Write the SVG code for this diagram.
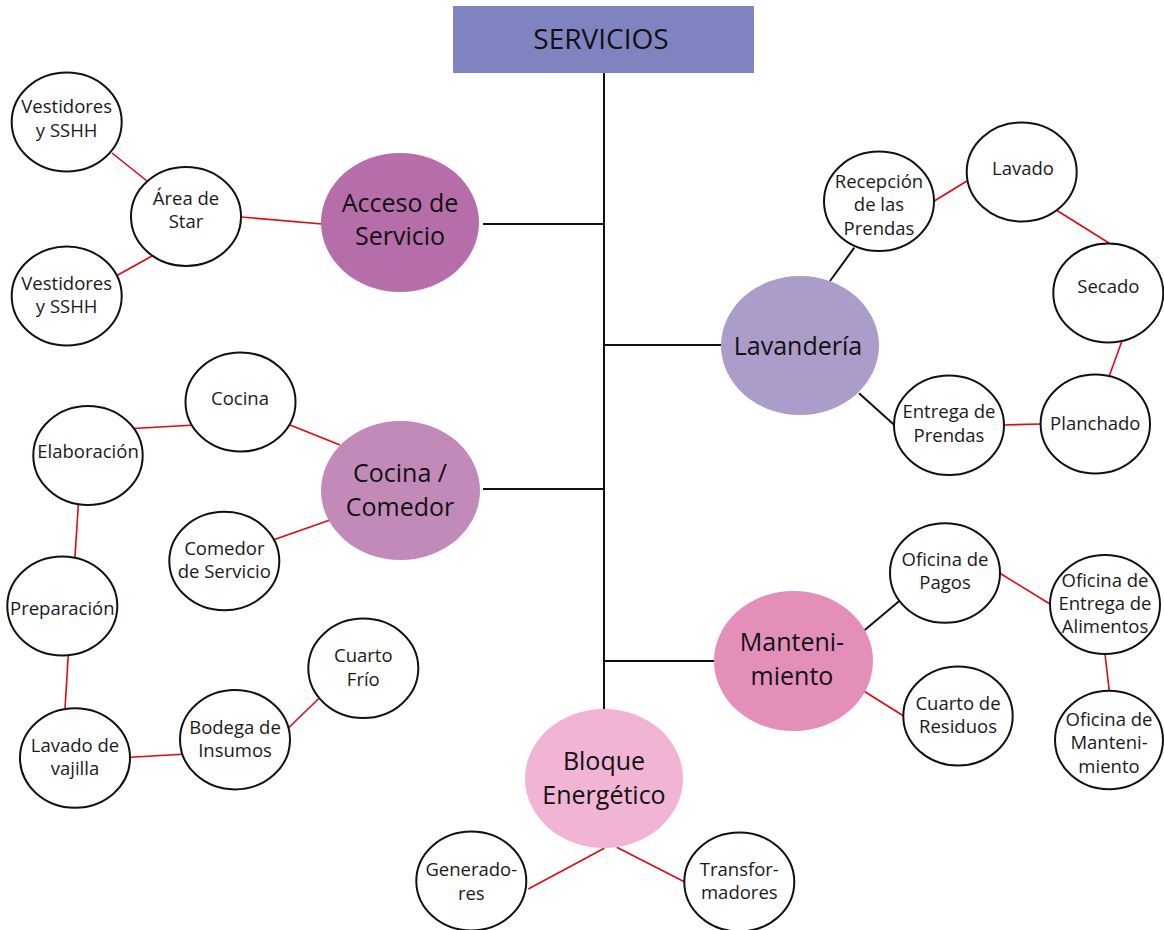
<svg xmlns="http://www.w3.org/2000/svg" width="1164" height="930" viewBox="0 0 1164 930">
<style>
  .bg{fill:#ffffff}
  .n{fill:#ffffff;stroke:#111;stroke-width:2}
  .t{font-family:"Open Sans","Liberation Sans",sans-serif;font-size:18.5px;fill:#1a1a1a;text-anchor:middle}
  .T{font-family:"Open Sans","Liberation Sans",sans-serif;font-size:25px;fill:#111;text-anchor:middle}
  .blk{stroke:#111;stroke-width:2;fill:none}
  .red{stroke:#e30613;stroke-width:1.6;fill:none}
</style>
<rect class="bg" x="0" y="0" width="1164" height="930"/>
<g id="connectors">
  <line class="blk" x1="604" y1="73" x2="604" y2="710"/>
  <line class="blk" x1="483" y1="224" x2="604" y2="224"/>
  <line class="blk" x1="483" y1="489" x2="604" y2="489"/>
  <line class="blk" x1="604" y1="345" x2="721" y2="345"/>
  <line class="blk" x1="604" y1="661" x2="714" y2="661"/>
  <line class="red" x1="112" y1="153" x2="147" y2="181"/>
  <line class="red" x1="241" y1="217" x2="322" y2="224"/>
  <line class="red" x1="152" y1="256" x2="116" y2="276"/>
  <line class="red" x1="133" y1="428.5" x2="195" y2="425"/>
  <line class="red" x1="290" y1="425" x2="340" y2="445"/>
  <line class="red" x1="273" y1="540" x2="330" y2="520"/>
  <line class="red" x1="78.3" y1="505" x2="75" y2="557"/>
  <line class="red" x1="68.3" y1="654" x2="65" y2="709"/>
  <line class="red" x1="130" y1="757.3" x2="182.7" y2="754.3"/>
  <line class="red" x1="287.3" y1="729" x2="321.7" y2="695.7"/>
  <line class="blk" x1="830" y1="281" x2="854.3" y2="247.7"/>
  <line class="blk" x1="859" y1="393.3" x2="894.3" y2="425"/>
  <line class="red" x1="934.3" y1="201" x2="967.3" y2="180.7"/>
  <line class="red" x1="1055" y1="209.3" x2="1109.3" y2="243.3"/>
  <line class="red" x1="1121.7" y1="341.7" x2="1109.3" y2="375.7"/>
  <line class="red" x1="1004" y1="425" x2="1040.7" y2="424"/>
  <line class="blk" x1="862.7" y1="631.7" x2="899.3" y2="601"/>
  <line class="red" x1="863.3" y1="690.7" x2="903.3" y2="715.7"/>
  <line class="red" x1="1000" y1="573.3" x2="1050" y2="604"/>
  <line class="red" x1="1105" y1="654" x2="1109.3" y2="691"/>
  <line class="red" x1="604.3" y1="848.3" x2="528.3" y2="889"/>
  <line class="red" x1="616.7" y1="847.3" x2="684.3" y2="881.7"/>
</g>
<g id="servicios">
  <rect x="453" y="6" width="301" height="67" fill="#7f84c1"/>
  <text x="601" y="48.5" font-family="Open Sans, Liberation Sans, sans-serif" font-size="28" fill="#111" text-anchor="middle">SERVICIOS</text>
</g>
<g id="acceso">
  <ellipse cx="400" cy="222.5" rx="79" ry="69.5" fill="#b56ea9"/>
  <text class="T" x="400" y="211.5">Acceso de</text>
  <text class="T" x="400" y="245">Servicio</text>
</g>
<g id="cocina-comedor">
  <ellipse cx="400.5" cy="490.5" rx="79.5" ry="69.5" fill="#c28ab9"/>
  <text class="T" x="400" y="482">Cocina /</text>
  <text class="T" x="400" y="516">Comedor</text>
</g>
<g id="lavanderia">
  <ellipse cx="800" cy="345.5" rx="79" ry="69.5" fill="#ac9cc9"/>
  <text class="T" x="798" y="355">Lavandería</text>
</g>
<g id="mantenimiento">
  <ellipse cx="793.5" cy="661" rx="79.5" ry="70" fill="#e38fba"/>
  <text class="T" x="792" y="651">Manteni-</text>
  <text class="T" x="792" y="685">miento</text>
</g>
<g id="bloque">
  <ellipse cx="604" cy="778.5" rx="79" ry="69.5" fill="#f2b4d4"/>
  <text class="T" x="604" y="770">Bloque</text>
  <text class="T" x="604" y="803.5">Energético</text>
</g>
<g id="vestidores1">
  <ellipse class="n" cx="66.7" cy="122" rx="55" ry="49.5"/>
  <text class="t" x="66.7" y="113">Vestidores</text>
  <text class="t" x="66.7" y="137">y SSHH</text>
</g>
<g id="area-star">
  <ellipse class="n" cx="186" cy="216.5" rx="55" ry="49.5"/>
  <text class="t" x="186" y="205">Área de</text>
  <text class="t" x="186" y="228">Star</text>
</g>
<g id="vestidores2">
  <ellipse class="n" cx="66.7" cy="296" rx="55" ry="49.5"/>
  <text class="t" x="66.7" y="290">Vestidores</text>
  <text class="t" x="66.7" y="313">y SSHH</text>
</g>
<g id="cocina">
  <ellipse class="n" cx="240.5" cy="402" rx="55" ry="49.5"/>
  <text class="t" x="240" y="405">Cocina</text>
</g>
<g id="elaboracion">
  <ellipse class="n" cx="88" cy="455.5" rx="54.7" ry="49.5"/>
  <text class="t" x="88" y="458">Elaboración</text>
</g>
<g id="comedor-servicio">
  <ellipse class="n" cx="224.3" cy="561" rx="55" ry="49.3"/>
  <text class="t" x="224.3" y="555">Comedor</text>
  <text class="t" x="224.3" y="578">de Servicio</text>
</g>
<g id="preparacion">
  <ellipse class="n" cx="62.3" cy="606" rx="55" ry="49.5"/>
  <text class="t" x="62.3" y="615">Preparación</text>
</g>
<g id="cuarto-frio">
  <ellipse class="n" cx="363.3" cy="668.3" rx="55" ry="49.7"/>
  <text class="t" x="363.3" y="662">Cuarto</text>
  <text class="t" x="363.3" y="685.5">Frío</text>
</g>
<g id="bodega">
  <ellipse class="n" cx="235" cy="739.7" rx="55" ry="49.7"/>
  <text class="t" x="235" y="733.8">Bodega de</text>
  <text class="t" x="235" y="757.2">Insumos</text>
</g>
<g id="lavado-vajilla">
  <ellipse class="n" cx="75" cy="758" rx="55" ry="49.7"/>
  <text class="t" x="75" y="751.5">Lavado de</text>
  <text class="t" x="75" y="774.7">vajilla</text>
</g>
<g id="recepcion">
  <ellipse class="n" cx="879" cy="201.3" rx="55" ry="49.7"/>
  <text class="t" x="879" y="188">Recepción</text>
  <text class="t" x="879" y="211.2">de las</text>
  <text class="t" x="879" y="234.5">Prendas</text>
</g>
<g id="lavado">
  <ellipse class="n" cx="1021.7" cy="172" rx="55" ry="49.5"/>
  <text class="t" x="1023" y="175">Lavado</text>
</g>
<g id="secado">
  <ellipse class="n" cx="1108.3" cy="293" rx="55" ry="49.5"/>
  <text class="t" x="1108.3" y="293.3">Secado</text>
</g>
<g id="planchado">
  <ellipse class="n" cx="1095.3" cy="424" rx="54.7" ry="49.5"/>
  <text class="t" x="1095.3" y="430">Planchado</text>
</g>
<g id="entrega-prendas">
  <ellipse class="n" cx="949" cy="425.3" rx="55" ry="49.7"/>
  <text class="t" x="949" y="418">Entrega de</text>
  <text class="t" x="949" y="441.8">Prendas</text>
</g>
<g id="oficina-pagos">
  <ellipse class="n" cx="945" cy="573" rx="55" ry="49.7"/>
  <text class="t" x="945" y="565.5">Oficina de</text>
  <text class="t" x="945" y="589.3">Pagos</text>
</g>
<g id="oficina-alimentos">
  <ellipse class="n" cx="1105" cy="604.5" rx="55" ry="49.5"/>
  <text class="t" x="1105" y="586.5">Oficina de</text>
  <text class="t" x="1105" y="610">Entrega de</text>
  <text class="t" x="1105" y="633">Alimentos</text>
</g>
<g id="cuarto-residuos">
  <ellipse class="n" cx="958" cy="716" rx="54.7" ry="49.5"/>
  <text class="t" x="958" y="709.5">Cuarto de</text>
  <text class="t" x="958" y="733">Residuos</text>
</g>
<g id="oficina-mantenimiento">
  <ellipse class="n" cx="1109" cy="740" rx="54" ry="49.3"/>
  <text class="t" x="1109" y="726">Oficina de</text>
  <text class="t" x="1109" y="749.3">Manteni-</text>
  <text class="t" x="1109" y="772.7">miento</text>
</g>
<g id="generadores">
  <ellipse class="n" cx="471.3" cy="881" rx="55" ry="49.5"/>
  <text class="t" x="471.3" y="876">Generado-</text>
  <text class="t" x="471.3" y="899.5">res</text>
</g>
<g id="transformadores">
  <ellipse class="n" cx="739.3" cy="882" rx="55" ry="49.5"/>
  <text class="t" x="739.3" y="876">Transfor-</text>
  <text class="t" x="739.3" y="899.2">madores</text>
</g>
</svg>
